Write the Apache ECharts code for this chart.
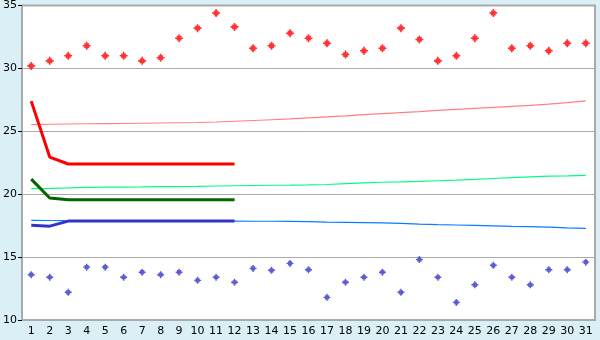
<!DOCTYPE html>
<html><head><meta charset="utf-8">
<script src="https://cdn.jsdelivr.net/npm/echarts@6/dist/echarts.min.js"></script>
<style>html,body{margin:0;padding:0;background:#DAEFF6;}#c{width:600px;height:340px;}</style>
</head><body><div id="c"></div>
<script>
const days = Array.from({length:31},(_,i)=>String(i+1));
const yTicks = [10,15,20,25,30,35];
const maxPoints = [30.2,30.6,31.0,31.8,31.0,31.0,30.6,30.85,32.4,33.2,34.4,33.3,31.6,31.8,32.8,32.4,32.0,31.1,31.4,31.6,33.2,32.3,30.6,31.0,32.4,34.4,31.6,31.8,31.4,32.0,32.0];
const minPoints = [13.6,13.4,12.2,14.2,14.2,13.4,13.8,13.6,13.8,13.15,13.4,13.0,14.1,13.95,14.5,14.0,11.8,13.0,13.4,13.8,12.2,14.8,13.4,11.4,12.8,14.35,13.4,12.8,14.0,14.0,14.6];
const maxAvg = [27.4,22.95,22.4,22.4,22.4,22.4,22.4,22.4,22.4,22.4,22.4,22.4];
const meanAvg = [21.2,19.7,19.55,19.55,19.55,19.55,19.55,19.55,19.55,19.55,19.55,19.55];
const minAvg = [17.54,17.46,17.86,17.86,17.86,17.86,17.86,17.86,17.86,17.86,17.86,17.86];
const maxNorm = [25.53,25.56,25.58,25.6,25.61,25.62,25.64,25.66,25.68,25.7,25.74,25.8,25.86,25.92,25.98,26.06,26.14,26.22,26.32,26.4,26.48,26.56,26.66,26.74,26.82,26.9,26.98,27.06,27.16,27.28,27.42];
const meanNorm = [20.45,20.46,20.5,20.55,20.56,20.57,20.58,20.6,20.61,20.62,20.65,20.67,20.69,20.71,20.72,20.74,20.77,20.84,20.9,20.95,20.98,21.02,21.07,21.12,21.18,21.25,21.32,21.38,21.43,21.46,21.5];
const minNorm = [17.92,17.91,17.9,17.9,17.89,17.89,17.88,17.88,17.87,17.87,17.86,17.86,17.85,17.85,17.84,17.82,17.78,17.76,17.74,17.72,17.68,17.62,17.58,17.55,17.52,17.49,17.45,17.42,17.38,17.32,17.28];

const marker = 'path://M2,0H3V1H4V2H5V3H4V4H3V5H2V4H1V3H0V2H1V1H2Z';
const chart = echarts.init(document.getElementById('c'), null, {renderer:'canvas'});
const line = (data, color, width, z) => ({type:'line', data, symbol:'none', lineStyle:{color, width}, itemStyle:{color}, z, animation:false});
chart.setOption({
  animation:false,
  backgroundColor:'#DAEFF6',
  grid:{left:20, right:5, top:5, bottom:20, show:true, backgroundColor:'#ffffff', borderColor:'#AAAAAA', borderWidth:2},
  xAxis:{type:'category', data:days, boundaryGap:true,
    axisLine:{lineStyle:{color:'#AAAAAA', width:2}},
    axisTick:{alignWithLabel:true, length:5, lineStyle:{color:'#000000'}},
    axisLabel:{color:'#000', fontFamily:'DejaVu Sans', fontSize:11, margin:6, interval:0},
    splitLine:{show:false}},
  yAxis:{type:'value', min:yTicks[0], max:yTicks[yTicks.length-1], interval:5,
    axisLine:{show:true, lineStyle:{color:'#AAAAAA', width:2}},
    axisTick:{show:true, length:4, lineStyle:{color:'#000000'}},
    axisLabel:{color:'#000', fontFamily:'DejaVu Sans', fontSize:11, margin:5},
    splitLine:{show:true, lineStyle:{color:'#AAAAAA', width:1}}},
  series:[
    line(maxNorm,'#FF8080',1.2,2),
    line(meanNorm,'#00FF80',1.2,2),
    line(minNorm,'#0A7CFF',1.2,2),
    line(maxAvg,'#FF0000',3,3),
    line(meanAvg,'#006600',3,3),
    line(minAvg,'#3333CC',3,3),
    {type:'scatter', data:maxPoints, symbol:marker, symbolSize:8, itemStyle:{color:'#FF0000'}, z:4},
    {type:'scatter', data:minPoints, symbol:marker, symbolSize:7, itemStyle:{color:'#3333CC'}, z:4}
  ]
});
</script></body></html>
